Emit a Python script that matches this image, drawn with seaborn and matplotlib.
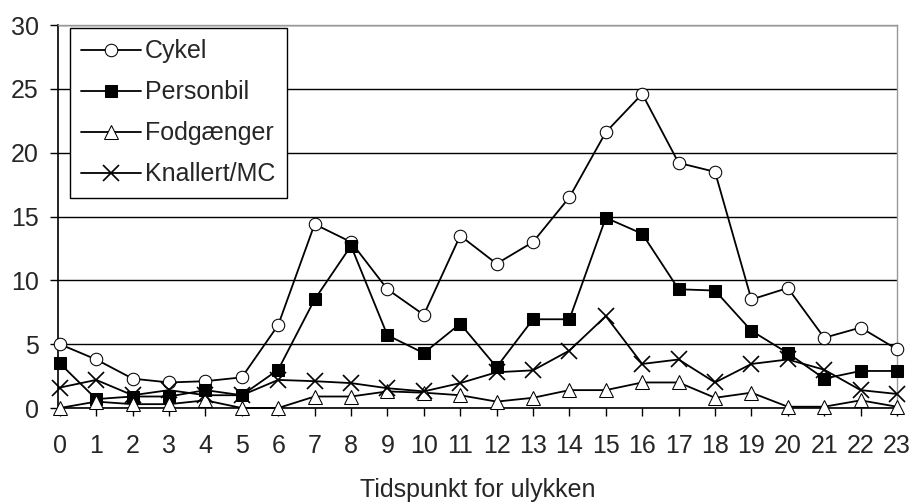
import matplotlib
matplotlib.use("Agg")
import matplotlib.pyplot as plt
import seaborn as sns
import pandas as pd

hours = list(range(24))
cykel = [5.0, 3.8, 2.3, 2.0, 2.1, 2.4, 6.5, 14.4, 13.0, 9.3, 7.3, 13.5, 11.3, 13.0,
         16.5, 21.6, 24.6, 19.2, 18.5, 8.5, 9.4, 5.5, 6.3, 4.6]
personbil = [3.5, 0.7, 0.9, 0.9, 1.4, 1.0, 3.0, 8.5, 12.7, 5.7, 4.3, 6.6, 3.2, 6.95,
             6.95, 14.9, 13.65, 9.3, 9.2, 6.05, 4.3, 2.3, 2.9, 2.9]
fodgaenger = [0.0, 0.5, 0.3, 0.3, 0.6, 0.0, 0.0, 0.9, 0.9, 1.3, 1.2, 1.0, 0.5, 0.8,
              1.4, 1.4, 2.0, 2.0, 0.8, 1.2, 0.1, 0.1, 0.6, 0.1]
knallert = [1.6, 2.2, 1.0, 1.4, 1.0, 1.0, 2.2, 2.1, 1.95, 1.55, 1.3, 1.95, 2.8, 2.95,
            4.5, 7.2, 3.45, 3.8, 2.0, 3.45, 3.8, 3.0, 1.4, 1.1]
series_names = ["Cykel", "Personbil", "Fodgænger", "Knallert/MC"]
xlabel = "Tidspunkt for ulykken"
yticks = [0, 5, 10, 15, 20, 25, 30]

df = pd.DataFrame({"time": hours * 4,
                   "value": cykel + personbil + fodgaenger + knallert,
                   "series": sum([[n] * 24 for n in series_names], [])})

sns.set_style("white")
plt.rcParams["font.family"] = ["Liberation Sans", "DejaVu Sans"]
plt.rcParams["font.stretch"] = "normal"
FS = 18

fig = plt.figure(figsize=(9.12, 5.03), dpi=100)
ax = fig.add_axes([58 / 912, 1 - 408 / 503, (897 - 58) / 912, (408 - 25) / 503])

styles = {
    "Cykel": dict(marker="o", markerfacecolor="white", markersize=9),
    "Personbil": dict(marker="s", markerfacecolor="black", markersize=8),
    "Fodgænger": dict(marker="^", markerfacecolor="white", markersize=10),
    "Knallert/MC": dict(marker="x", markerfacecolor="black", markersize=11, markeredgewidth=1.2),
}
for name in series_names:
    sub = df[df["series"] == name]
    st = styles[name]
    sns.lineplot(data=sub, x="time", y="value", ax=ax, color="black", linewidth=1.3,
                 markeredgecolor="black", label=name, clip_on=False, zorder=3, **st)

ax.set_xlim(-0.05, 23)
ax.set_ylim(0, 30)
ax.set_yticks(yticks)
ax.set_xticks(hours)
ax.set_xticklabels([str(h) for h in hours], fontsize=FS)
ax.set_yticklabels([str(t) for t in yticks], fontsize=FS)
ax.yaxis.grid(True, color="black", linewidth=1)
ax.xaxis.grid(False)
ax.set_axisbelow(True)
ax.tick_params(axis="both", direction="out", length=6, width=1, color="black", pad=8,
               bottom=True, left=True)
ax.tick_params(axis="x", pad=13)
for side in ["left", "bottom"]:
    ax.spines[side].set_color("black")
    ax.spines[side].set_linewidth(1.2)
for side in ["top", "right"]:
    ax.spines[side].set_color("#999999")
    ax.spines[side].set_linewidth(1)
ax.set_xlabel(xlabel, fontsize=FS, labelpad=14)
ax.set_ylabel("")

leg = ax.legend(loc="upper left", bbox_to_anchor=(12 / 839, 1 - 3 / 383), fontsize=FS,
                frameon=True, fancybox=False, framealpha=1, edgecolor="black",
                borderpad=0.45, labelspacing=0.68, handlelength=2.4, handletextpad=0.15,
                borderaxespad=0)
leg.get_frame().set_linewidth(1)
leg.set_zorder(5)

fig.savefig("out.png", dpi=100, facecolor="white")
